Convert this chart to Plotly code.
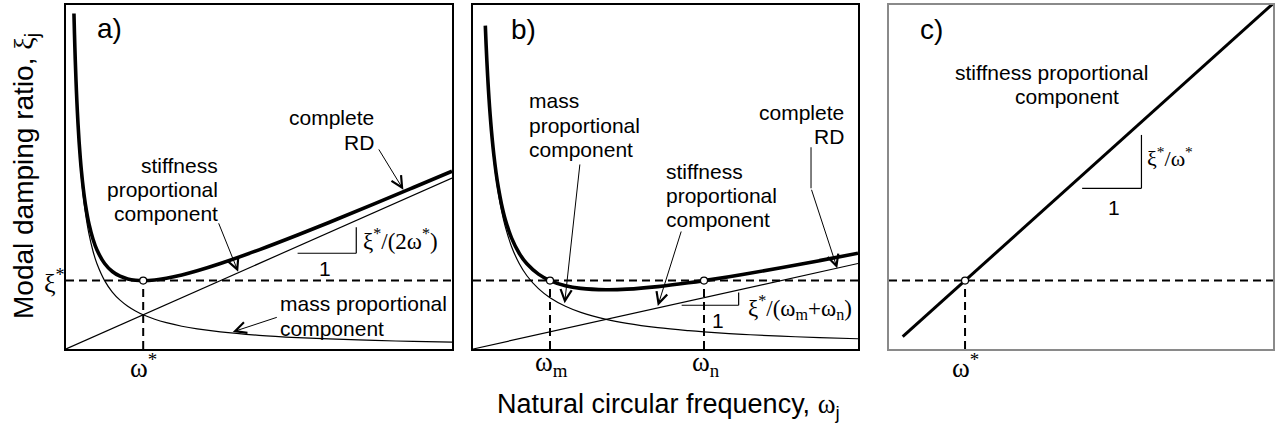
import plotly.graph_objects as go

W, H = 1278, 428

# ---- panel a) : normalised so that omega* = 1, xi* = 1 ----
omega_a = [0.103, 0.11, 0.12, 0.13, 0.14, 0.155, 0.17, 0.185, 0.2, 0.225, 0.25, 0.3,
           0.35, 0.4, 0.5, 0.6, 0.7, 0.8, 0.9, 1.0, 1.15, 1.3, 1.5, 1.7, 2.0, 2.5,
           3.0, 3.5, 4.0, 4.5, 5.0]
mass_a = [4.854, 4.545, 4.167, 3.846, 3.571, 3.226, 2.941, 2.703, 2.5, 2.222, 2.0, 1.667,
          1.429, 1.25, 1.0, 0.833, 0.714, 0.625, 0.556, 0.5, 0.435, 0.385, 0.333, 0.294,
          0.25, 0.2, 0.167, 0.143, 0.125, 0.111, 0.1]
complete_a = [4.906, 4.600, 4.227, 3.911, 3.641, 3.304, 3.026, 2.796, 2.6, 2.335, 2.125,
              1.817, 1.604, 1.45, 1.25, 1.133, 1.064, 1.025, 1.006, 1.0, 1.010, 1.035,
              1.083, 1.144, 1.25, 1.45, 1.667, 1.893, 2.125, 2.361, 2.6]
stiff_a_omega = [0.0, 5.0]
stiff_a_xi = [0.0, 2.5]
target_a = {"omega": [1.0], "xi": [1.0]}

# ---- panel b) : omega_m = 1, omega_n = 3, xi* = 1 ----
omega_b = [0.16, 0.17, 0.18, 0.19, 0.2, 0.215, 0.23, 0.25, 0.27, 0.3, 0.33, 0.37, 0.42,
           0.5, 0.6, 0.7, 0.85, 1.0, 1.2, 1.4, 1.73, 2.0, 2.4, 2.8, 3.0, 3.5, 4.0, 4.5, 5.0]
mass_b = [4.688, 4.412, 4.167, 3.947, 3.75, 3.488, 3.261, 3.0, 2.778, 2.5, 2.273, 2.027,
          1.786, 1.5, 1.25, 1.071, 0.882, 0.75, 0.625, 0.536, 0.434, 0.375, 0.3125,
          0.268, 0.25, 0.214, 0.1875, 0.167, 0.15]
complete_b = [4.728, 4.455, 4.212, 3.995, 3.8, 3.542, 3.319, 3.063, 2.846, 2.575, 2.356,
              2.120, 1.891, 1.625, 1.4, 1.246, 1.095, 1.0, 0.925, 0.886, 0.867, 0.875,
              0.9125, 0.968, 1.0, 1.089, 1.1875, 1.292, 1.4]
stiff_b_omega = [0.0, 5.0]
stiff_b_xi = [0.0, 1.25]
target_b = {"omega": [1.0, 3.0], "xi": [1.0, 1.0]}

# ---- panel c) : stiffness proportional only ----
stiff_c_omega = [0.18, 5.05]
stiff_c_xi = [0.18, 5.05]
target_c = {"omega": [1.0], "xi": [1.0]}

XI_STAR = 1.0
X_RANGE = {"a": [0, 5.0], "b": [0, 5.0], "c": [0, 5.05]}
Y_RANGE = [0, 5.03]

SANS = "Liberation Sans, Arial, sans-serif"
SERIF = "Liberation Serif, Times New Roman, serif"


def g(s):
    """Greek / math glyph set in a serif face."""
    return f"<span style=\"font-family:'Liberation Serif'\">{s}</span>"


def px(x):
    return x / W


def py(y):
    return 1 - y / H


fig = go.Figure()

axes = {"a": ("x", "y"), "b": ("x2", "y2"), "c": ("x3", "y3")}

thin = dict(color="black", width=1.2)
thick = dict(color="black", width=3.6)

# panel a curves
fig.add_trace(go.Scatter(x=stiff_a_omega, y=stiff_a_xi, mode="lines", line=thin,
                         xaxis="x", yaxis="y"))
fig.add_trace(go.Scatter(x=omega_a, y=mass_a, mode="lines", line=dict(thin, shape="spline"),
                         xaxis="x", yaxis="y"))
fig.add_trace(go.Scatter(x=omega_a, y=complete_a, mode="lines",
                         line=dict(thick, shape="spline"), xaxis="x", yaxis="y"))

# panel b curves
fig.add_trace(go.Scatter(x=stiff_b_omega, y=stiff_b_xi, mode="lines", line=thin,
                         xaxis="x2", yaxis="y2"))
fig.add_trace(go.Scatter(x=omega_b, y=mass_b, mode="lines", line=dict(thin, shape="spline"),
                         xaxis="x2", yaxis="y2"))
fig.add_trace(go.Scatter(x=omega_b, y=complete_b, mode="lines",
                         line=dict(thick, shape="spline"), xaxis="x2", yaxis="y2"))

# panel c line
fig.add_trace(go.Scatter(x=stiff_c_omega, y=stiff_c_xi, mode="lines",
                         line=dict(color="black", width=3), xaxis="x3", yaxis="y3"))

dash = dict(color="black", width=2, dash="8px,5px")
shapes = []
for key, tgt in (("a", target_a), ("b", target_b), ("c", target_c)):
    xa, ya = axes[key]
    shapes.append(dict(type="line", xref=xa, yref=ya, x0=X_RANGE[key][0],
                       x1=X_RANGE[key][1], y0=XI_STAR, y1=XI_STAR, line=dash, layer="below"))
    for w in tgt["omega"]:
        shapes.append(dict(type="line", xref=xa, yref=ya, x0=w, x1=w, y0=0, y1=XI_STAR,
                           line=dash, layer="below"))

# target points (hollow circles)
for key, tgt in (("a", target_a), ("b", target_b), ("c", target_c)):
    xa, ya = axes[key]
    fig.add_trace(go.Scatter(x=tgt["omega"], y=tgt["xi"], mode="markers",
                             marker=dict(size=7, color="white",
                                         line=dict(color="black", width=1.2)),
                             xaxis=xa, yaxis=ya))


def slope_triangle(xa, ya, x0, x1, y0, slope):
    y1 = y0 + slope * (x1 - x0)
    ln = dict(color="black", width=1.2)
    shapes.append(dict(type="line", xref=xa, yref=ya, x0=x0, x1=x1, y0=y0, y1=y0, line=ln))
    shapes.append(dict(type="line", xref=xa, yref=ya, x0=x1, x1=x1, y0=y0, y1=y1, line=ln))


slope_triangle("x", "y", 3.0, 3.76, 1.40, 0.5)
slope_triangle("x2", "y2", 2.71, 3.45, 0.64, 0.25)
slope_triangle("x3", "y3", 2.54, 3.32, 2.35, 1.0)

# vertical leg of the bent leader in panel b
shapes.append(dict(type="line", xref="x2", yref="y2", x0=4.39, x1=4.39, y0=2.95, y1=2.35,
                   line=dict(color="black", width=1)))

annotations = []


def text(x, y, s, size=21, xanchor="center", font=SANS):
    annotations.append(dict(x=px(x), y=py(y), xref="paper", yref="paper", text=s,
                            showarrow=False, xanchor=xanchor, yanchor="middle",
                            font=dict(family=font, size=size, color="black")))


def arrow(xa, ya, tail, tip):
    annotations.append(dict(x=tip[0], y=tip[1], ax=tail[0], ay=tail[1], xref=xa, yref=ya,
                            axref=xa, ayref=ya, text="", showarrow=True, arrowhead=5,
                            arrowsize=2.2, arrowwidth=1, arrowcolor="black", standoff=0))


# panel labels
text(110, 28, "a)", size=28)
text(523, 30, "b)", size=28)
text(931, 30, "c)", size=28)

# panel a texts
text(376, 117, "complete", xanchor="right")
text(376, 142, "RD", xanchor="right")
text(220, 165, "stiffness", xanchor="right")
text(220, 189, "proportional", xanchor="right")
text(220, 213, "component", xanchor="right")
text(278, 303, "mass proportional", xanchor="left")
text(278, 328, "component", xanchor="left")
text(325, 268, "1")
text(361, 240, g("ξ<sup>*</sup>/(2ω<sup>*</sup>)"), size=23, xanchor="left", font=SERIF)
arrow("x", "y", (4.04, 2.94), (4.37, 2.33))
arrow("x", "y", (1.97, 1.86), (2.23, 1.13))
arrow("x", "y", (2.75, 0.47), (2.16, 0.25))

# panel b texts
text(527, 100, "mass", xanchor="left")
text(527, 125, "proportional", xanchor="left")
text(527, 149, "component", xanchor="left")
text(664, 172, "stiffness", xanchor="left")
text(664, 196, "proportional", xanchor="left")
text(664, 219, "component", xanchor="left")
text(846, 113, "complete", xanchor="right")
text(846, 137, "RD", xanchor="right")
text(718, 320, "1")
text(746, 307, g("ξ<sup>*</sup>/(ω<sub>m</sub>+ω<sub>n</sub>)"), size=23, xanchor="left",
     font=SERIF)
arrow("x2", "y2", (1.39, 2.72), (1.19, 0.67))
arrow("x2", "y2", (2.71, 1.74), (2.40, 0.63))
arrow("x2", "y2", (4.39, 2.35), (4.73, 1.18))

# panel c texts
text(1051, 73, "stiffness proportional")
text(1067, 97, "component")
text(1114, 207, "1")
text(1145, 157, g("ξ<sup>*</sup>/ω<sup>*</sup>"), size=22, xanchor="left", font=SERIF)

# omega / xi marks on the axes
text(143, 366, g("ω<sup>*</sup>"), size=27, font=SERIF)
text(551, 364, g("ω<sub>m</sub>"), size=27, font=SERIF)
text(706, 364, g("ω<sub>n</sub>"), size=27, font=SERIF)
text(965, 366, g("ω<sup>*</sup>"), size=27, font=SERIF)
text(55, 281, g("ξ<sup>*</sup>"), size=26, font=SERIF)

# axis titles
annotations.append(dict(x=px(25), y=py(176), xref="paper", yref="paper",
                        text="Modal damping ratio, " + g("ξ") + "<sub>j</sub>",
                        showarrow=False, textangle=-90, xanchor="center", yanchor="middle",
                        font=dict(family=SANS, size=28, color="black")))
text(668, 406, "Natural circular frequency, " + g("ω") + "<sub>j</sub>", size=27)

ydom = [1 - 349 / H, 1 - 5 / H]


def xaxis(l, r, rng, color):
    return dict(domain=[px(l), px(r)], range=rng, showgrid=False, zeroline=False,
                showticklabels=False, ticks="", showline=True, mirror=True,
                linecolor=color, linewidth=1.5, fixedrange=True)


def yaxis(anchor, color):
    return dict(domain=ydom, range=Y_RANGE, anchor=anchor, showgrid=False, zeroline=False,
                showticklabels=False, ticks="", showline=True, mirror=True,
                linecolor=color, linewidth=1.5, fixedrange=True)


fig.update_layout(
    width=W, height=H, margin=dict(l=0, r=0, t=0, b=0),
    paper_bgcolor="white", plot_bgcolor="white", showlegend=False,
    xaxis=xaxis(66, 452, X_RANGE["a"], "black"),
    yaxis=yaxis("x", "black"),
    xaxis2=dict(xaxis(473, 858, X_RANGE["b"], "black"), anchor="y2"),
    yaxis2=yaxis("x2", "black"),
    xaxis3=dict(xaxis(889, 1273, X_RANGE["c"], "#8a8a8a"), anchor="y3"),
    yaxis3=yaxis("x3", "#8a8a8a"),
    shapes=shapes, annotations=annotations,
)
fig.update_layout(xaxis_anchor="y")

fig.write_html("out.html")
